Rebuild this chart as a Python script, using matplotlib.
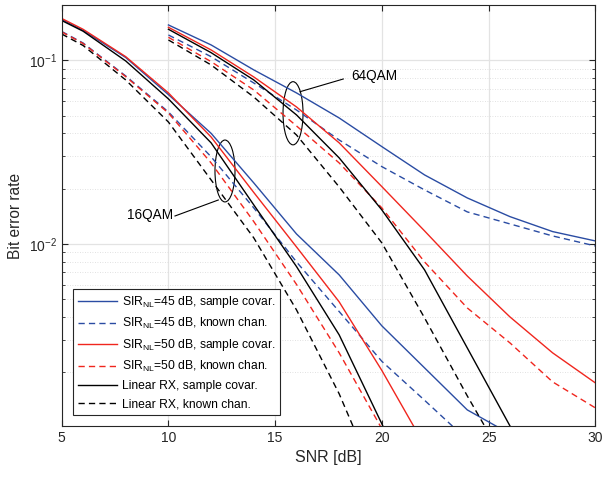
import numpy as np
import matplotlib
matplotlib.use('Agg')
import matplotlib.pyplot as plt
from matplotlib.patches import Ellipse
from matplotlib.ticker import LogLocator, NullFormatter

plt.rcParams['font.family'] = ['Liberation Sans', 'DejaVu Sans']
plt.rcParams['mathtext.fontset'] = 'custom'
plt.rcParams['mathtext.rm'] = 'Liberation Sans'
plt.rcParams['mathtext.it'] = 'Liberation Sans:italic'

# SNR grids (dB)
snr16 = [5, 6, 8, 10, 12, 14, 16, 18, 20, 22, 24, 26]
snr64 = [10, 12, 14, 16, 18, 20, 22, 24, 26, 28, 30]

# 16QAM bit error rates
ber16_sir45_cov = [0.1668, 0.1455, 0.1035, 0.0650, 0.0400, 0.02148, 0.01133, 0.00678, 0.003578, 0.002113, 0.001248, 0.000924]
ber16_sir45_known = [0.1435, 0.1242, 0.0821, 0.0523, 0.0298, 0.01570, 0.00798, 0.004281, 0.002293, 0.001408, 0.000857, 0.000532]
ber16_sir50_cov = [0.1689, 0.1475, 0.1046, 0.0664, 0.0382, 0.01905, 0.00963, 0.004834, 0.002045, 0.000800, 0.0003, 0.0001]
ber16_sir50_known = [0.1426, 0.1234, 0.0814, 0.0516, 0.0276, 0.01322, 0.006018, 0.002551, 0.000984, 0.000356, 0.0001, 0.00003]
ber16_lin_cov = [0.1646, 0.1440, 0.0991, 0.0616, 0.0355, 0.01630, 0.00753, 0.003196, 0.001047, 0.000322, 0.0001, 0.00003]
ber16_lin_known = [0.1390, 0.1204, 0.0781, 0.0461, 0.0223, 0.01078, 0.004373, 0.001526, 0.000436, 0.0001, 0.00003, 0.00001]

# 64QAM bit error rates
ber64_sir45_cov = [0.1557, 0.1212, 0.0886, 0.0664, 0.0485, 0.03386, 0.02375, 0.01780, 0.01408, 0.01167, 0.01038]
ber64_sir45_known = [0.1373, 0.1046, 0.0752, 0.0536, 0.0368, 0.02635, 0.01968, 0.01494, 0.01285, 0.01105, 0.00975]
ber64_sir50_cov = [0.1512, 0.1138, 0.0811, 0.0557, 0.0355, 0.02050, 0.01177, 0.00669, 0.004004, 0.002551, 0.001751]
ber64_sir50_known = [0.1334, 0.0983, 0.0689, 0.0439, 0.0276, 0.01570, 0.00798, 0.004482, 0.002891, 0.001773, 0.001280]
ber64_lin_cov = [0.1475, 0.1100, 0.0781, 0.0504, 0.0294, 0.01531, 0.00722, 0.002715, 0.001021, 0.000384, 0.0001]
ber64_lin_known = [0.1290, 0.0943, 0.0631, 0.0392, 0.02043, 0.01012, 0.003955, 0.001488, 0.000588, 0.0002, 0.00005]

labels = ['SIR$_{\\mathrm{NL}}$=45 dB, sample covar.',
          'SIR$_{\\mathrm{NL}}$=45 dB, known chan.',
          'SIR$_{\\mathrm{NL}}$=50 dB, sample covar.',
          'SIR$_{\\mathrm{NL}}$=50 dB, known chan.',
          'Linear RX, sample covar.',
          'Linear RX, known chan.']

blue = '#2a4ca3'
red = '#f0261e'
colors = [blue, blue, red, red, 'k', 'k']
styles = ['-', '--', '-', '--', '-', '--']

fig = plt.figure(figsize=(6.02, 4.79), dpi=100)
ax = fig.add_axes([0.1025, 0.1107, 0.8864, 0.8789])

curves16 = [ber16_sir45_cov, ber16_sir45_known, ber16_sir50_cov, ber16_sir50_known, ber16_lin_cov, ber16_lin_known]
curves64 = [ber64_sir45_cov, ber64_sir45_known, ber64_sir50_cov, ber64_sir50_known, ber64_lin_cov, ber64_lin_known]

for b16, b64, c, ls, lab in zip(curves16, curves64, colors, styles, labels):
    kw = dict(color=c, lw=1.0)
    if ls == '--':
        kw['dashes'] = (4.5, 3)
    ax.plot(snr16, b16, label=lab, **kw)
    ax.plot(snr64, b64, **kw)

ax.set_yscale('log')
ax.set_xlim(5, 30)
ax.set_ylim(1.02e-3, 0.2)
ax.set_xticks([5, 10, 15, 20, 25, 30])
ax.yaxis.set_minor_locator(LogLocator(base=10, subs=np.arange(2, 10)))
ax.yaxis.set_minor_formatter(NullFormatter())

ax.grid(True, which='major', color='#e3e3e3', lw=0.9)
ax.grid(True, which='minor', axis='y', color='#d8d8d8', lw=0.6, linestyle=(0, (1, 2)))
ax.set_axisbelow(True)
ax.tick_params(which='both', direction='in', top=True, right=True, labelsize=10, colors='#262626')
ax.tick_params(which='major', length=4)
ax.tick_params(which='minor', length=2.5)
for s in ax.spines.values():
    s.set_color('#262626')
    s.set_linewidth(0.8)

ax.set_xlabel('SNR [dB]', fontsize=11.5, color='#262626')
ax.set_ylabel('Bit error rate', fontsize=11.2, color='#262626')

leg = ax.legend(loc='lower left', bbox_to_anchor=(0.0206, 0.026), borderaxespad=0,
                fontsize=8.7, fancybox=False, edgecolor='#262626', framealpha=1,
                handlelength=3.3, handletextpad=0.4, labelspacing=0.5, borderpad=0.4)
leg.get_frame().set_linewidth(0.8)

# ellipses marking curve groups
ax.add_patch(Ellipse((0.4335, 0.7428), 0.0375, 0.150, transform=ax.transAxes, fill=False, ec='k', lw=0.8))
ax.add_patch(Ellipse((0.306, 0.6057), 0.0375, 0.147, transform=ax.transAxes, fill=False, ec='k', lw=0.8))
ax.plot([0.4466, 0.5277], [0.794, 0.8242], transform=ax.transAxes, color='k', lw=0.8)
ax.plot([0.2123, 0.2935], [0.4988, 0.5368], transform=ax.transAxes, color='k', lw=0.8)
ax.text(0.5418, 0.8314, '64QAM', transform=ax.transAxes, ha='left', va='center', fontsize=9.8)
ax.text(0.2086, 0.5012, '16QAM', transform=ax.transAxes, ha='right', va='center', fontsize=9.8)

fig.savefig('out.png', dpi=100)
